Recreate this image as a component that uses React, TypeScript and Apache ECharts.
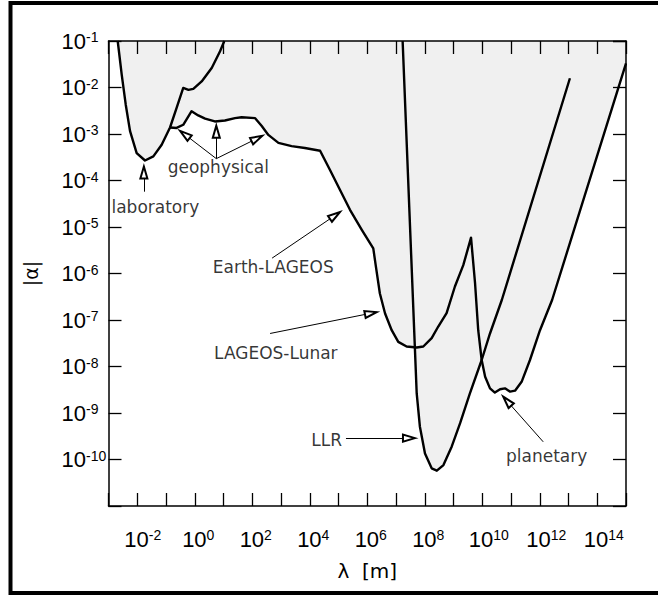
import React, { useEffect, useRef } from "react";
import * as echarts from "echarts";

// ---- data: [lambda (m), |alpha|] ----
const laboratoryCurve: [number, number][] = [
  [2.09e-3, 1e-1], [2.88e-3, 1.9e-2], [3.98e-3, 4.27e-3], [5.62e-3, 1.15e-3],
  [9.55e-3, 3.89e-4], [1.86e-2, 2.69e-4], [3.63e-2, 3.31e-4], [7.08e-2, 5.89e-4],
  [0.138, 1.38e-3], [0.234, 3.63e-3], [0.398, 9.77e-3], [0.603, 8.91e-3],
  [0.891, 9.33e-3], [1.74, 1.35e-2], [3.89, 2.63e-2], [7.59, 6.03e-2], [10.7, 1e-1],
];

const geophysicalToPlanetaryCurve: [number, number][] = [
  [0.138, 1.38e-3], [0.234, 1.35e-3], [0.398, 1.58e-3], [0.776, 3.09e-3],
  [1.32, 2.51e-3], [2.29, 2.14e-3], [5.01, 1.86e-3], [11.2, 1.95e-3],
  [25.1, 2.19e-3], [42.7, 2.29e-3], [126, 2.19e-3], [214, 1.48e-3],
  [363, 9.55e-4], [813, 6.46e-4], [2340, 5.5e-4], [6760, 5.01e-4],
  [22900, 4.37e-4], [5.01e4, 1.7e-4], [1.12e5, 6.31e-5], [2.51e5, 2.34e-5],
  [6.46e5, 8.71e-6], [1.62e6, 3.47e-6], [2.0e6, 1.41e-6], [2.75e6, 3.72e-7],
  [4.17e6, 1.38e-7], [7.08e6, 6.03e-8], [1.2e7, 3.39e-8], [2.34e7, 2.69e-8],
  [5.25e7, 2.57e-8], [8.91e7, 2.69e-8], [1.74e8, 4.07e-8], [2.95e8, 7.24e-8],
  [5.75e8, 1.41e-7], [1.12e9, 5.25e-7], [2.19e9, 1.51e-6], [4.07e9, 5.89e-6],
  [5.62e9, 6.17e-7], [7.24e9, 6.03e-8], [9.55e9, 1.38e-8], [1.26e10, 6.03e-9],
  [1.86e10, 3.39e-9], [2.75e10, 2.75e-9], [4.17e10, 3.24e-9], [6.17e10, 3.39e-9],
  [9.33e10, 2.88e-9], [1.38e11, 3.02e-9], [2.34e11, 4.68e-9], [4.57e11, 1.38e-8],
  [1.02e12, 6.03e-8], [2.69e12, 2.69e-7], [1e15, 3.31e-2],
];

const llrCurve: [number, number][] = [
  [1.7e7, 1e-1], [5.25e7, 2.63e-9], [6.76e7, 5.13e-10], [1.02e8, 1.35e-10],
  [1.74e8, 6.46e-11], [2.63e8, 5.75e-11], [4.47e8, 7.59e-11], [8.71e8, 1.91e-10],
  [1.7e9, 6.03e-10], [3.72e9, 2.63e-9], [9.55e9, 1.38e-8], [1.86e10, 5.13e-8],
  [4.79e10, 2.69e-7], [1.12e13, 1.58e-2],
];

const labelNames = ["laboratory", "geophysical", "Earth-LAGEOS", "LAGEOS-Lunar", "LLR", "planetary"];
const labelPositions: [number, number][] = [
  [4.27e-2, 2.63e-5], [6.61, 1.91e-4], [537, 1.35e-6], [661, 2.0e-8], [3.89e4, 2.63e-10], [1.74e12, 1.2e-10],
];

// arrows: [from, to]
const arrowLines: [[number, number], [number, number]][] = [
  [[1.7e-2, 5.75e-5], [1.7e-2, 2.0e-4]],
  [[5.62, 2.95e-4], [0.309, 1.17e-3]],
  [[5.62, 2.95e-4], [5.62, 1.51e-3]],
  [[5.62, 2.95e-4], [224, 9.12e-4]],
  [[490, 2.14e-6], [1.12e5, 2.09e-5]],
  [[417, 5.13e-8], [2.14e6, 1.48e-7]],
  [[1.82e5, 2.88e-10], [4.57e7, 2.88e-10]],
  [[1.32e12, 2.4e-10], [5.37e10, 2.24e-9]],
];

const xLabelExponents = [-2, 0, 2, 4, 6, 8, 10, 12, 14];
const yLabelExponents = [-10, -9, -8, -7, -6, -5, -4, -3, -2, -1];

const FONT = "'DejaVu Sans', sans-serif";
const NARROW = "'Liberation Sans Narrow', 'Liberation Sans', sans-serif";
const SHADE = "#f0f0f0";

const expOf = (v: number) => Math.round(Math.log10(v));

const baseStyle = { fontSize: 22, fontFamily: NARROW, color: "#000", lineHeight: 22 };
const supStyle = { fontSize: 14, fontFamily: NARROW, color: "#000", lineHeight: 14, verticalAlign: "top" };

export default function App() {
  const ref = useRef<HTMLDivElement>(null);
  useEffect(() => {
    if (!ref.current) return;
    const chart = echarts.init(ref.current, undefined, { renderer: "svg" });

    const axisLine = { show: true, lineStyle: { color: "#000", width: 1.5 } };
    const axisTick = { show: true, inside: true, length: 13, lineStyle: { color: "#000", width: 1.3 } };

    const curveArea = (data: [number, number][]) => ({
      type: "line",
      data,
      showSymbol: false,
      symbol: "none",
      silent: true,
      z: 1,
      lineStyle: { width: 0, opacity: 0 },
      areaStyle: { color: SHADE, opacity: 1, origin: "end" },
    });
    const curveLine = (data: [number, number][]) => ({
      type: "line",
      data,
      showSymbol: false,
      symbol: "none",
      silent: true,
      z: 3,
      lineStyle: { color: "#000", width: 2.4, join: "round" },
    });

    chart.setOption({
      animation: false,
      backgroundColor: "#fff",
      grid: { left: 108.5, right: 32, top: 41, bottom: 89, containLabel: false, outerBoundsMode: "none" },
      xAxis: [
        {
          type: "log",
          logBase: 10,
          min: 1e-3,
          max: 1e15,
          interval: 1,
          position: "bottom",
          z: 10,
          axisLine,
          axisTick,
          splitLine: { show: false },
          axisLabel: {
            margin: 22,
            formatter: (v: number) => {
              const e = expOf(v);
              if (!xLabelExponents.includes(e)) return "";
              const s = String(e);
              const pad = e < 0 ? "pm" : s.length > 1 ? "p2" : "p1";
              return `{${pad}| }{b|10}{s|${s}}`;
            },
            rich: {
              p1: { width: 7, fontSize: 14 },
              p2: { width: 13, fontSize: 14 },
              pm: { width: 11, fontSize: 14 },
              b: baseStyle,
              s: supStyle,
            },
          },
          name: "λ  [m]",
          nameLocation: "middle",
          nameGap: 55,
          nameTextStyle: { fontSize: 20, fontFamily: FONT, color: "#000" },
        },
        {
          type: "log",
          logBase: 10,
          min: 1e-3,
          max: 1e15,
          interval: 1,
          position: "top",
          z: 10,
          axisLine,
          axisTick,
          splitLine: { show: false },
          axisLabel: { show: false },
        },
      ],
      yAxis: [
        {
          type: "log",
          logBase: 10,
          min: 1e-11,
          max: 1e-1,
          interval: 1,
          position: "left",
          z: 10,
          axisLine,
          axisTick,
          splitLine: { show: false },
          axisLabel: {
            align: "left",
            margin: 47,
            formatter: (v: number) => {
              const e = expOf(v);
              return yLabelExponents.includes(e) ? `{b|10}{s|${e}}` : "";
            },
            rich: { b: baseStyle, s: supStyle },
          },
          name: "|α|",
          nameLocation: "middle",
          nameGap: 68,
          nameRotate: 90,
          nameTextStyle: { fontSize: 19, fontFamily: FONT, color: "#000" },
        },
        {
          type: "log",
          logBase: 10,
          min: 1e-11,
          max: 1e-1,
          interval: 1,
          position: "right",
          z: 10,
          axisLine,
          axisTick,
          splitLine: { show: false },
          axisLabel: { show: false },
        },
      ],
      series: [
        curveArea(laboratoryCurve),
        curveArea(geophysicalToPlanetaryCurve),
        curveArea(llrCurve),
        curveLine(laboratoryCurve),
        curveLine(geophysicalToPlanetaryCurve),
        curveLine(llrCurve),
        {
          type: "scatter",
          z: 4,
          silent: true,
          symbolSize: 1,
          itemStyle: { color: "rgba(0,0,0,0)" },
          data: labelNames.map((name, i) => ({ name, value: labelPositions[i] })),
          label: {
            show: true,
            position: "inside",
            formatter: "{b}",
            color: "#000",
            fontSize: 17,
            fontFamily: FONT,
          },
          markLine: {
            silent: true,
            animation: false,
            label: { show: false },
            lineStyle: { color: "#000", width: 1, type: "solid" },
            emphasis: { disabled: true },
            data: arrowLines.map(([a, b]) => [
              { coord: a, symbol: "none" },
              { coord: b, symbol: "emptyTriangle", symbolSize: [7, 12], symbolOffset: [0, 6] },
            ]),
          },
        },
      ],
      graphic: [
        {
          type: "rect",
          z: 100,
          silent: true,
          shape: { x: 10.5, y: 3, width: 700, height: 590 },
          style: { fill: "none", stroke: "#000", lineWidth: 4 },
        },
      ],
    });

    return () => chart.dispose();
  }, []);

  return (
    <div
      ref={ref}
      style={{ position: "absolute", left: 0, top: 0, width: 658, height: 595, background: "#fff" }}
    />
  );
}
